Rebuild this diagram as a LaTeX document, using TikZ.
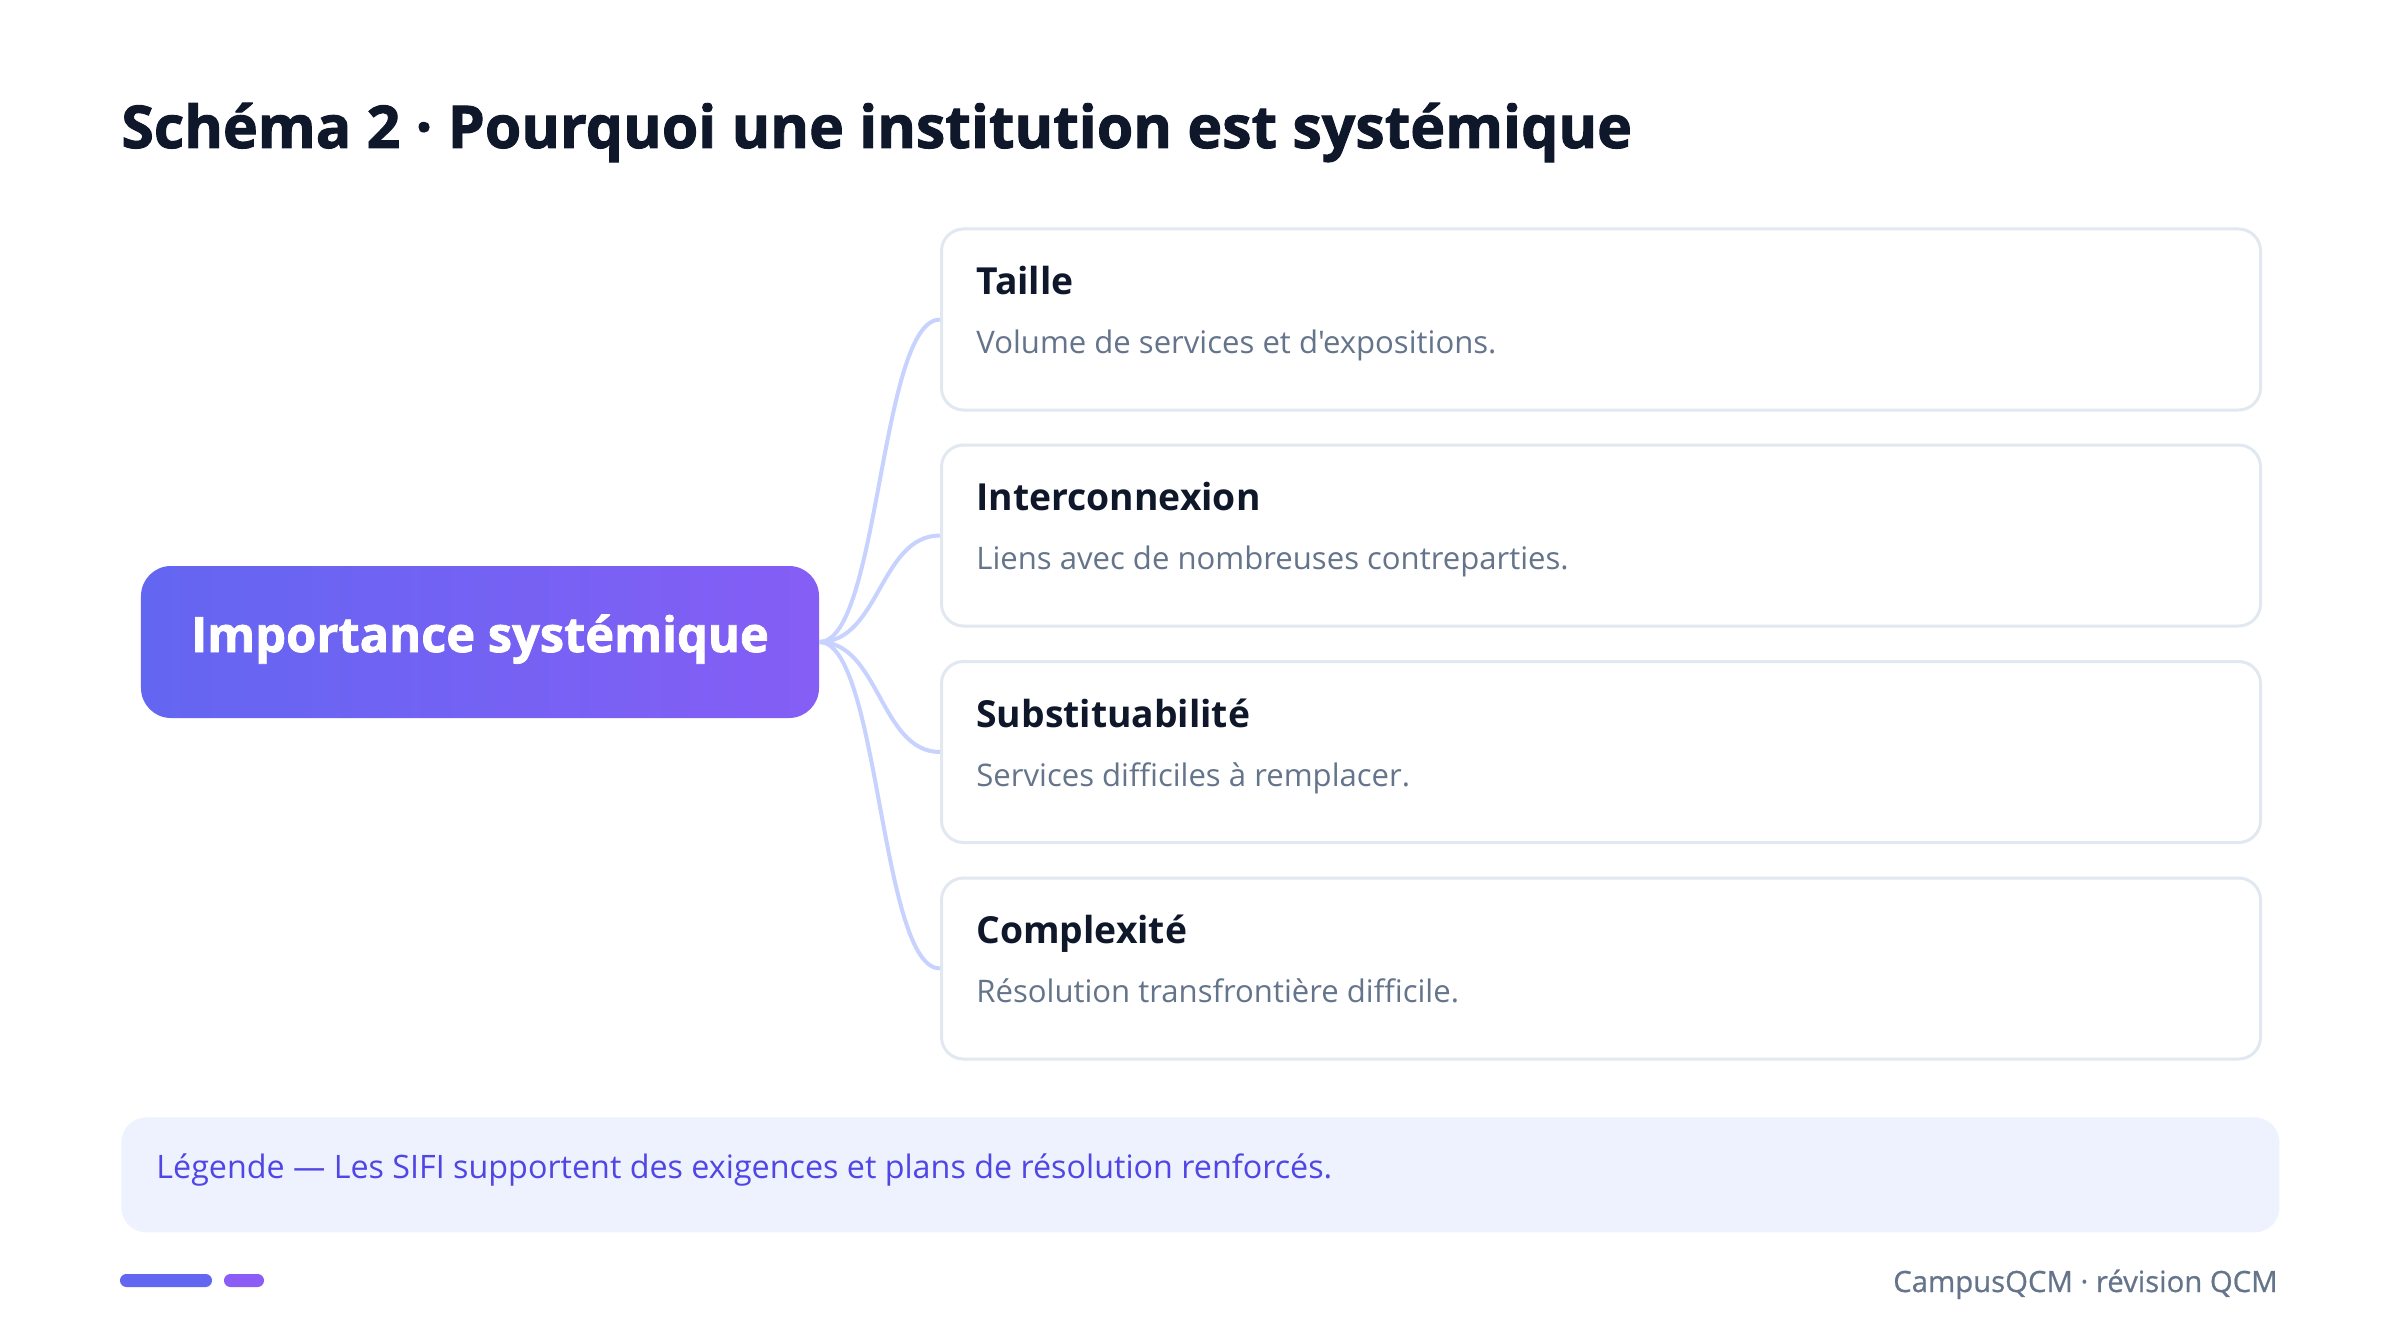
\documentclass[tikz,border=0pt]{standalone}
\usepackage{fontspec}
\setmainfont{Open Sans}[Ligatures=TeXOff]
\newfontfamily\heavyfont{Open Sans}[Ligatures=TeXOff, BoldFeatures={FakeBold=1.6}]
\newfontfamily\semifont{Open Sans}[Ligatures=TeXOff, FakeBold=0.7]
\usetikzlibrary{calc}
\definecolor{ink}{HTML}{0F172A}
\definecolor{slate}{HTML}{64748B}
\definecolor{indigoA}{HTML}{6366F1}
\definecolor{violetA}{HTML}{8B5CF6}
\definecolor{cardline}{HTML}{E2E8F0}
\definecolor{connline}{HTML}{C7D2FE}
\definecolor{legendbg}{HTML}{EEF2FF}
\definecolor{legendtxt}{HTML}{4F46E5}
\tikzset{
  card/.style={draw=cardline, line width=1.5bp, fill=white, rounded corners=11bp,
    minimum width=659.5bp, minimum height=90.5bp, anchor=north west, inner sep=0},
  cardtitle/.style={anchor=base west, inner sep=0, text=ink, font=\fontsize{18.7}{22}\selectfont\bfseries},
  carddesc/.style={anchor=base west, inner sep=0, text=slate, font=\fontsize{15.6}{19}\selectfont},
  conn/.style={draw=connline, line width=2bp},
}
\begin{document}
\begin{tikzpicture}[x=0.5bp,y=-0.5bp]
\useasboundingbox (0,0) rectangle (2400,1342);
\fill[white] (0,0) rectangle (2400,1342);

\node[anchor=base west, inner sep=0, text=ink, font=\heavyfont\fontsize{29.6}{36}\selectfont\bfseries] (title) at (121,148) {Schéma 2 · Pourquoi une institution est systémique};

% central node
\node[rounded corners=15bp, minimum width=339bp, minimum height=76bp, inner sep=0,
  left color=indigoA, right color=violetA!85!indigoA] (core) at (480,642) {};
\node[anchor=base, inner sep=0, text=white, font=\heavyfont\fontsize{24.5}{28}\selectfont\bfseries] (coretxt) at (480,652) {Importance systémique};

% cards
\node[card] (b1) at (940,227.5) {};
\node[card] (b2) at (940,443.5) {};
\node[card] (b3) at (940,660) {};
\node[card] (b4) at (940,876.5) {};

\node[cardtitle] (t1) at (976,294.5) {Taille};
\node[carddesc] (d1) at (976,353.5) {Volume de services et d'expositions.};
\node[cardtitle] (t2) at (976,510.5) {Interconnexion};
\node[carddesc] (d2) at (976,569.5) {Liens avec de nombreuses contreparties.};
\node[cardtitle] (t3) at (976,727) {Substituabilité};
\node[carddesc] (d3) at (976,786) {Services difficiles à remplacer.};
\node[cardtitle] (t4) at (976,943.5) {Complexité};
\node[carddesc] (d4) at (976,1002.5) {Résolution transfrontière difficile.};

% connectors
\foreach \b in {b1,b2,b3,b4}{
  \draw[conn] (core.east) .. controls ($(core.east)+(60,0)$) and ($(\b.west)+(-60,0)$) .. (\b.west);
}

% legend
\node[fill=legendbg, rounded corners=12.5bp, minimum width=1079bp, minimum height=57.5bp,
  anchor=north west, inner sep=0] (legend) at (121,1117) {};
\node[anchor=base west, inner sep=0, text=legendtxt, font=\fontsize{16.2}{20}\selectfont] (legendtxt) at (156,1178) {Légende — Les SIFI supportent des exigences et plans de résolution renforcés.};

% footer bars
\fill[indigoA, rounded corners=3.2bp] (120,1274) rectangle (212,1287);
\fill[violetA, rounded corners=3.2bp] (224,1274) rectangle (264,1287);

\node[anchor=base east, inner sep=0, text=slate, font=\semifont\fontsize{14.7}{18}\selectfont] (footer) at (2278,1292) {CampusQCM · révision QCM};
\end{tikzpicture}
\end{document}
